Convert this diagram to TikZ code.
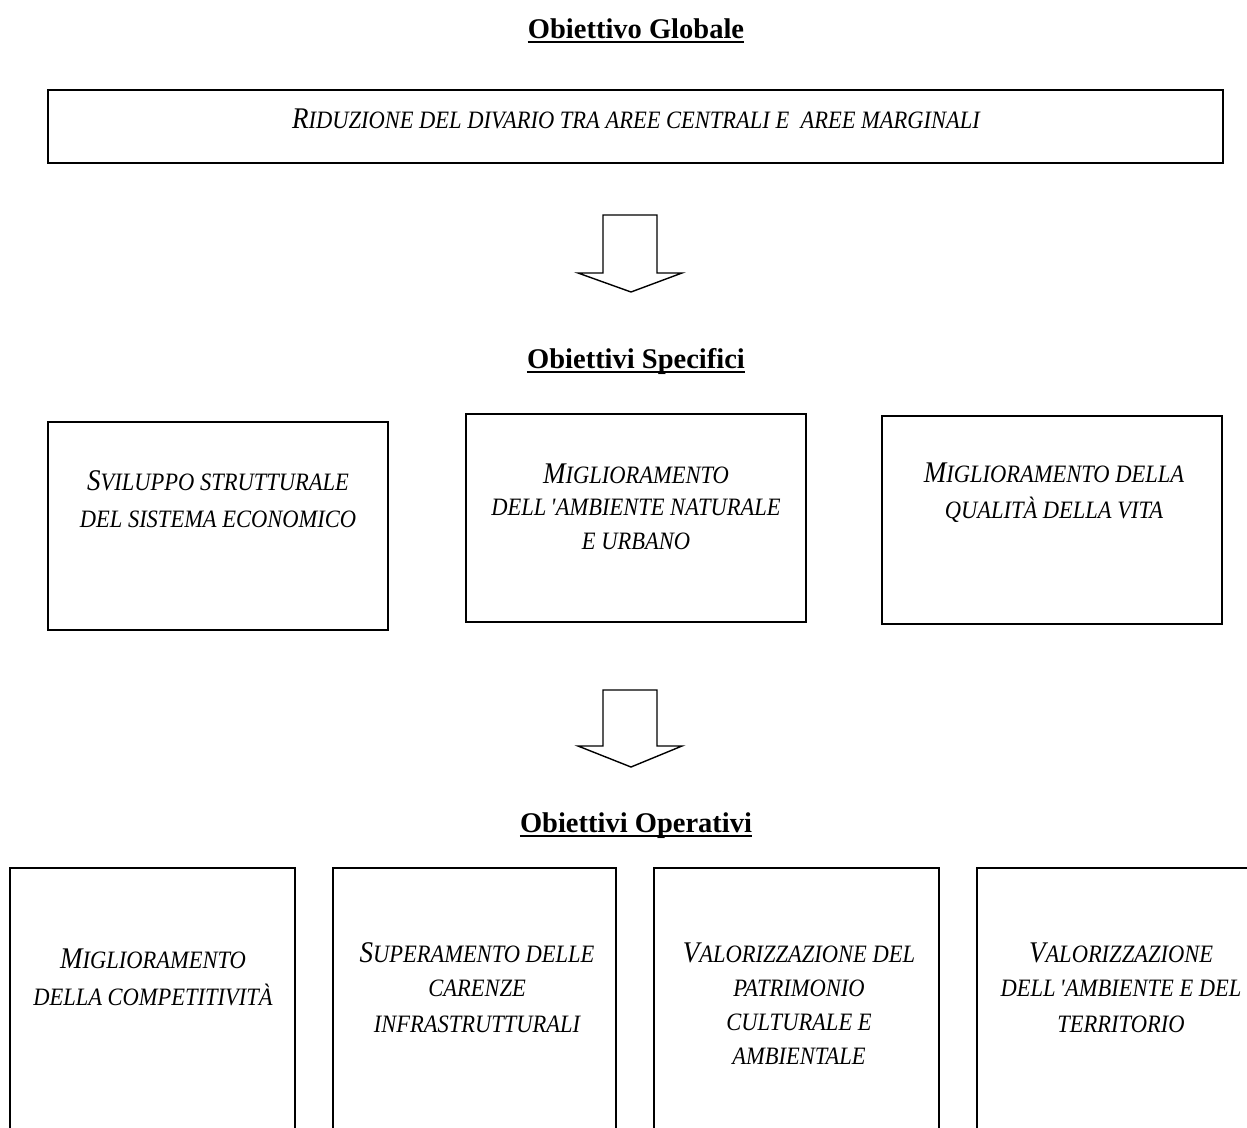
\documentclass[tikz,border=0pt]{standalone}
\usepackage{fontspec}
\setmainfont{Liberation Serif}
\newfontfamily\boxfont[FakeStretch=0.9]{Liberation Serif}
\newcommand\BL[1]{{\fontsize{30}{34}\selectfont #1}}
\newcommand\apo{\,\textquotesingle}
\newcommand\ml[1]{\begin{tabular}[t]{@{}c@{}}#1\end{tabular}}
\begin{document}
\begin{tikzpicture}[x=1pt,y=-1pt,
  box/.style={draw, line width=1.4pt, inner sep=0, minimum width=#1},
  box/.default=340pt,
  ttl/.style={font=\fontsize{28.5}{34}\selectfont\bfseries, inner sep=0, anchor=base},
  txt/.style={font=\boxfont\fontsize{25}{34}\selectfont\itshape, inner sep=0, anchor=base},
  blk/.style={draw, line width=1.4pt, line join=miter, fill=white},
  uline/.style={line width=1.8pt}]
\useasboundingbox[fill=white] (0,0) rectangle (1247,1127);
\clip (0,0) rectangle (1247,1127);

% titles
\node[ttl] (t1) at (636,38) {Obiettivo Globale};
\node[ttl] (t2) at (636,368) {Obiettivi Specifici};
\node[ttl] (t3) at (636,832) {Obiettivi Operativi};
\foreach \t in {t1,t2,t3}
  \draw[uline] ([yshift=-4pt]\t.base west) -- ([yshift=-4pt]\t.base east);

% global objective
\node[box=1175pt, minimum height=73pt] (g) at (635.5,126.5) {};
\node[txt] (gt) at (636,128) {\BL{R}IDUZIONE DEL DIVARIO TRA AREE CENTRALI E\ \ AREE MARGINALI};

% arrow 1
\draw[blk] (603,215) -- (657,215) -- (657,273) -- (682,273) -- (631,292) -- (578,273) -- (603,273) -- cycle;

% specific objectives
\node[box, minimum height=208pt] (sa) at (218,526) {};
\node[box, minimum height=208pt] (sb) at (636,518) {};
\node[box, minimum height=208pt] (sc) at (1052,520) {};
\node[txt] (sat) at (218,490) {\ml{\BL{S}VILUPPO STRUTTURALE\\[3pt]DEL SISTEMA ECONOMICO}};
\node[txt] (sbt) at (636,483) {\ml{\BL{M}IGLIORAMENTO\\[-2pt]DELL\apo AMBIENTE NATURALE\\E URBANO}};
\node[txt] (sct) at (1054,482) {\ml{\BL{M}IGLIORAMENTO DELLA\\[2pt]QUALITÀ DELLA VITA}};

% arrow 2
\draw[blk] (603,690) -- (657,690) -- (657,746) -- (682,746) -- (631,767) -- (578,746) -- (603,746) -- cycle;

% operative objectives
\node[box=285pt, minimum height=292pt] (oa) at (152.5,1014) {};
\node[box=283pt, minimum height=292pt] (ob) at (474.5,1014) {};
\node[box=285pt, minimum height=292pt] (oc) at (796.5,1014) {};
\node[box=285pt, minimum height=292pt] (od) at (1119.5,1014) {};
\node[txt] (oat) at (153,968) {\ml{\BL{M}IGLIORAMENTO\\[3pt]DELLA COMPETITIVITÀ}};
\node[txt] (obt) at (477,962) {\ml{\BL{S}UPERAMENTO DELLE\\CARENZE\\[2pt]INFRASTRUTTURALI}};
\node[txt] (oct) at (799,962) {\ml{\BL{V}ALORIZZAZIONE DEL\\PATRIMONIO\\CULTURALE E\\AMBIENTALE}};
\node[txt] (odt) at (1121,962) {\ml{\BL{V}ALORIZZAZIONE\\DELL\apo AMBIENTE E DEL\\[2pt]TERRITORIO}};
\end{tikzpicture}
\end{document}
